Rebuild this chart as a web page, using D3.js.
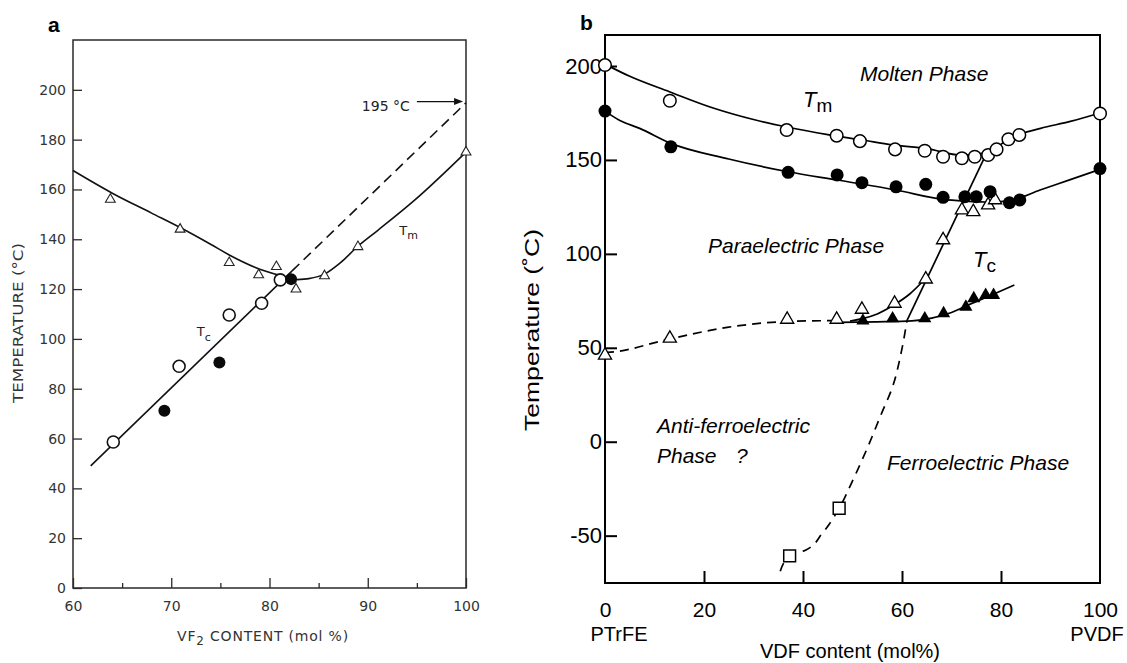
<!DOCTYPE html>
<html><head><meta charset="utf-8">
<script src="https://cdn.jsdelivr.net/npm/d3@7"></script>
<style>body{margin:0;background:#fff;} svg{display:block;}</style>
</head><body>
<script>
// ---------------- Panel a data ----------------
const aXTicks = [60, 70, 80, 90, 100];
const aXMinor = [65, 75, 85, 95];
const aYTicks = [0, 20, 40, 60, 80, 100, 120, 140, 160, 180, 200];
const aTriX = [63.8, 70.9, 75.9, 78.9, 80.7, 82.7, 85.6, 89.0, 100];
const aTriY = [156, 144, 130.6, 125.7, 129, 120, 125.3, 137, 175];
const aOpenCircX = [64.1, 70.8, 75.9, 79.2, 81.1];
const aOpenCircY = [58.6, 89, 109.6, 114.3, 123.7];
const aFillCircX = [69.3, 74.9, 82.2];
const aFillCircY = [71.2, 90.5, 124];
const aTmLeftX = [60, 64, 68, 71, 74, 76, 78.5, 81.2];
const aTmLeftY = [167.6, 158.5, 150.5, 144.5, 138, 133.5, 128.8, 125.3];
const aTmRightX = [82.8, 84, 85.6, 87.2, 89, 91, 94.8, 100];
const aTmRightY = [123.8, 124.2, 126, 130.5, 137.2, 143.5, 155.8, 175];
const aTcSolidX = [61.8, 82.3];
const aTcSolidY = [49, 127.3];
const aTcDashX = [82.3, 100];
const aTcDashY = [127.3, 194.8];

// ---------------- Panel b data ----------------
const bXTicks = [0, 20, 40, 60, 80, 100];
const bYTicks = [-50, 0, 50, 100, 150, 200];
const bOpenCircX = [0, 13.1, 36.7, 46.8, 51.5, 58.6, 64.6, 68.3, 72.1, 74.7, 77.4, 79.1, 81.5, 83.7, 100];
const bOpenCircY = [200.5, 181.5, 165.9, 162.9, 160, 155.6, 154.9, 151.7, 150.9, 151.7, 152.6, 155.6, 161, 163.3, 174.7];
const bFillCircX = [0, 13.3, 37, 46.9, 51.9, 58.8, 64.8, 68.3, 72.7, 75, 77.8, 81.7, 83.8, 100];
const bFillCircY = [176, 157, 143.4, 142, 137.9, 135.7, 137, 130.1, 130.4, 130.4, 133.1, 127.2, 128.7, 145.4];
const bOpenTriX = [0, 13.1, 36.8, 46.8, 51.9, 58.5, 64.8, 68.3, 72.1, 74.4, 77.4, 78.8];
const bOpenTriY = [46, 55, 65.1, 65.1, 70.4, 73.6, 86.5, 107.4, 123.3, 122.4, 126, 128.7];
const bFillTriX = [52.1, 58.1, 64.6, 68.4, 72.9, 74.5, 76.9, 78.5];
const bFillTriY = [64.4, 65.6, 65.6, 68.3, 71.8, 76.3, 78, 78];
const bSquareX = [37.3, 47.3];
const bSquareY = [-60.8, -35.4];
const bTmUpperX = [0, 5, 13, 22, 30, 37, 45, 52, 58, 65, 72, 75, 78, 81.3, 84, 88, 94, 100];
const bTmUpperY = [201, 194.5, 186.3, 177.5, 171.5, 167.4, 163.5, 160.6, 158, 156, 152.6, 153, 155, 160.6, 163.8, 166.8, 170.5, 175];
const bTmLowerX = [0, 3, 7, 13.3, 25, 37, 46.9, 58.8, 68.3, 72.7, 78, 82, 87.9, 94, 100];
const bTmLowerY = [176, 171, 166.8, 158.8, 150.5, 143.7, 139.3, 134, 129, 128.1, 127.6, 128.5, 134, 139.5, 145];
const bSteepX = [61, 77.4];
const bSteepY = [64.5, 155.3];
const bLowDashX = [35.4, 37.3, 40.6, 43.9, 47.3, 49.8, 53.1, 55.7, 58.1, 59.8, 61];
const bLowDashY = [-69, -61, -57.6, -48.7, -35.5, -22, -2.7, 14, 29.3, 47, 64.5];
const bLeftDashX = [0, 2.3, 12, 25, 36.8, 47];
const bLeftDashY = [47.5, 48, 54, 61, 64, 64.5];
const bTcFillX = [47, 55, 62, 66, 70, 74, 78, 82.7];
const bTcFillY = [63.5, 63.8, 64.3, 65.8, 68.8, 73.5, 78, 83.4];
const bTcOpenX = [49.5, 52, 55, 58.5, 61.5, 64.8];
const bTcOpenY = [64.2, 65.5, 68, 73, 78.5, 87];

const zip = (xs, ys) => xs.map((x, i) => [x, ys[i]]);

const svg = d3.select("body").append("svg").attr("width", 1127).attr("height", 663)
  .style("background", "#fff");

// =============== PANEL A ===============
const xa = d3.scaleLinear().domain([60, 100]).range([73, 466]);
const ya = d3.scaleLinear().domain([0, 220]).range([588, 40]);
const ga = svg.append("g");
const aInk = "#2a2a2a";
const aFont = "DejaVu Sans, Liberation Sans, sans-serif";

ga.append("rect").attr("x", xa(60)).attr("y", ya(220)).attr("width", xa(100) - xa(60))
  .attr("height", ya(0) - ya(220)).attr("fill", "none").attr("stroke", aInk).attr("stroke-width", 1.5);

const axA_y = ga.append("g").attr("transform", `translate(${xa(60)},0)`)
  .call(d3.axisLeft(ya).tickValues(aYTicks).tickSize(-9).tickPadding(7));
const axA_x = ga.append("g").attr("transform", `translate(0,${ya(0)})`)
  .call(d3.axisBottom(xa).tickValues(aXTicks).tickSize(-10).tickPadding(13).tickFormat(d3.format("d")));
const axA_xm = ga.append("g").attr("transform", `translate(0,${ya(0)})`)
  .call(d3.axisBottom(xa).tickValues(aXMinor).tickSize(-5).tickFormat(""));
[axA_y, axA_x, axA_xm].forEach(ax => {
  ax.select(".domain").remove();
  ax.selectAll("line").attr("stroke", aInk).attr("stroke-width", 1.3);
  ax.selectAll("text").attr("font-family", aFont).attr("font-size", 14).attr("fill", "#333");
});

const lineA = d3.line().x(d => xa(d[0])).y(d => ya(d[1])).curve(d3.curveMonotoneX);
const aLine = (pts, dash) => ga.append("path").attr("d", lineA(pts)).attr("fill", "none")
  .attr("stroke", "#111").attr("stroke-width", 1.6).attr("stroke-dasharray", dash || null);
aLine(zip(aTmLeftX, aTmLeftY));
aLine(zip(aTmRightX, aTmRightY));
aLine(zip(aTcSolidX, aTcSolidY));
aLine(zip(aTcDashX, aTcDashY), "10,6");

// markers a
ga.selectAll(".atri").data(zip(aTriX, aTriY)).join("path")
  .attr("d", d3.symbol(d3.symbolTriangle, 42)())
  .attr("transform", d => `translate(${xa(d[0])},${ya(d[1])})`)
  .attr("fill", "#fff").attr("stroke", "#222").attr("stroke-width", 1.1);
ga.selectAll(".aoc").data(zip(aOpenCircX, aOpenCircY)).join("circle")
  .attr("cx", d => xa(d[0])).attr("cy", d => ya(d[1])).attr("r", 6)
  .attr("fill", "#fff").attr("stroke", "#111").attr("stroke-width", 1.6);
ga.selectAll(".afc").data(zip(aFillCircX, aFillCircY)).join("circle")
  .attr("cx", d => xa(d[0])).attr("cy", d => ya(d[1])).attr("r", 6)
  .attr("fill", "#0a0a0a");

// annotation 195 °C
ga.append("text").attr("x", xa(89.4)).attr("y", ya(191.5)).text("195 °C")
  .attr("font-family", aFont).attr("font-size", 14).attr("fill", "#222");
const arrowY = ya(195.3);
ga.append("line").attr("x1", xa(95)).attr("x2", xa(99.3)).attr("y1", arrowY).attr("y2", arrowY)
  .attr("stroke", "#111").attr("stroke-width", 1.3);
ga.append("path").attr("d", `M${xa(99.7)},${arrowY} l-9,-3.5 l0,7 z`).attr("fill", "#111");

// Tm, Tc labels panel a
const tmA = ga.append("text").attr("x", xa(93.2)).attr("y", ya(141.6)).attr("font-family", aFont).attr("fill", "#222");
tmA.append("tspan").attr("font-size", 13).text("T");
tmA.append("tspan").attr("font-size", 11).attr("dy", 4).text("m");
const tcA = ga.append("text").attr("x", xa(72.6)).attr("y", ya(101)).attr("font-family", aFont).attr("fill", "#222");
tcA.append("tspan").attr("font-size", 13).text("T");
tcA.append("tspan").attr("font-size", 11).attr("dy", 5).text("c");

// axis titles a
ga.append("text").attr("transform", `translate(23,323) rotate(-90)`).attr("text-anchor", "middle")
  .attr("font-family", aFont).attr("font-size", 14).attr("fill", "#333")
  .attr("textLength", 160).attr("lengthAdjust", "spacingAndGlyphs").text("TEMPERATURE (°C)");
const xtA = ga.append("text").attr("x", 263).attr("y", 641).attr("text-anchor", "middle")
  .attr("font-family", aFont).attr("font-size", 14).attr("fill", "#333").attr("letter-spacing", 0.8);
xtA.append("tspan").text("VF");
xtA.append("tspan").attr("font-size", 12).attr("dy", 4).text("2");
xtA.append("tspan").attr("dy", -4).text(" CONTENT (mol %)");

// panel letter
svg.append("text").attr("x", 48).attr("y", 32).text("a").attr("font-family", "Liberation Sans, Arial, sans-serif")
  .attr("font-weight", "bold").attr("font-size", 21);

// =============== PANEL B ===============
const xb = d3.scaleLinear().domain([0, 100]).range([605, 1100]);
const yb = d3.scaleLinear().domain([-75.2, 216.5]).range([583, 35]);
const gb = svg.append("g");
const bFont = "Liberation Sans, Arial, Helvetica, sans-serif";

gb.append("rect").attr("x", xb(0)).attr("y", yb(216.5)).attr("width", xb(100) - xb(0))
  .attr("height", yb(-75.2) - yb(216.5)).attr("fill", "none").attr("stroke", "#000").attr("stroke-width", 2);

const axB_y = gb.append("g").attr("transform", `translate(${xb(0)},0)`)
  .call(d3.axisLeft(yb).tickValues(bYTicks).tickSize(-12).tickPadding(3).tickFormat(d => String(d)));
const axB_x = gb.append("g").attr("transform", `translate(0,${yb(-75.2)})`)
  .call(d3.axisBottom(xb).tickValues(bXTicks).tickSize(-12).tickPadding(19).tickFormat(d => String(d)));
[axB_y, axB_x].forEach(ax => {
  ax.select(".domain").remove();
  ax.selectAll("line").attr("stroke", "#000").attr("stroke-width", 2);
  ax.selectAll("text").attr("font-family", bFont).attr("font-size", 22).attr("fill", "#000");
});
axB_x.selectAll("text").attr("font-size", 21);
axB_x.selectAll(".tick").filter(d => d === 0 || d === 100).select("line").remove();

const lineB = d3.line().x(d => xb(d[0])).y(d => yb(d[1])).curve(d3.curveMonotoneX);
const lineBy = d3.line().x(d => xb(d[0])).y(d => yb(d[1])).curve(d3.curveMonotoneY);
const bLine = (pts, dash, gen) => gb.append("path").attr("d", (gen || lineB)(pts)).attr("fill", "none")
  .attr("stroke", "#000").attr("stroke-width", 1.7).attr("stroke-dasharray", dash || null);
bLine(zip(bTmUpperX, bTmUpperY));
bLine(zip(bTmLowerX, bTmLowerY));
bLine(zip(bSteepX, bSteepY));
bLine(zip(bLowDashX, bLowDashY), "9,7", lineBy);
bLine(zip(bLeftDashX, bLeftDashY), "9,6");
bLine(zip(bTcFillX, bTcFillY));
bLine(zip(bTcOpenX, bTcOpenY));

// markers b
gb.selectAll(".bsq").data(zip(bSquareX, bSquareY)).join("path")
  .attr("d", d3.symbol(d3.symbolSquare, 140)())
  .attr("transform", d => `translate(${xb(d[0])},${yb(d[1])})`)
  .attr("fill", "#fff").attr("stroke", "#000").attr("stroke-width", 1.5);
gb.selectAll(".bot").data(zip(bOpenTriX, bOpenTriY)).join("path")
  .attr("d", d3.symbol(d3.symbolTriangle, 75)())
  .attr("transform", d => `translate(${xb(d[0])},${yb(d[1])})`)
  .attr("fill", "#fff").attr("stroke", "#000").attr("stroke-width", 1.3);
gb.selectAll(".bft").data(zip(bFillTriX, bFillTriY)).join("path")
  .attr("d", d3.symbol(d3.symbolTriangle, 75)())
  .attr("transform", d => `translate(${xb(d[0])},${yb(d[1])})`)
  .attr("fill", "#000");
gb.selectAll(".bfc").data(zip(bFillCircX, bFillCircY)).join("circle")
  .attr("cx", d => xb(d[0])).attr("cy", d => yb(d[1])).attr("r", 6.5).attr("fill", "#000");
gb.selectAll(".boc").data(zip(bOpenCircX, bOpenCircY)).join("circle")
  .attr("cx", d => xb(d[0])).attr("cy", d => yb(d[1])).attr("r", 6.3)
  .attr("fill", "#fff").attr("stroke", "#000").attr("stroke-width", 1.5);

// phase labels
const itxt = (x, y, s) => gb.append("text").attr("x", x).attr("y", y).text(s)
  .attr("font-family", bFont).attr("font-style", "italic").attr("font-size", 21).attr("fill", "#000");
itxt(860, 81, "Molten Phase");
itxt(708, 253, "Paraelectric Phase");
itxt(657, 433, "Anti-ferroelectric");
itxt(657, 463, "Phase");
itxt(736, 463, "?");
itxt(887, 470, "Ferroelectric Phase");

const tmB = gb.append("text").attr("x", 803).attr("y", 107).attr("font-family", bFont).attr("fill", "#000");
tmB.append("tspan").attr("font-style", "italic").attr("font-size", 22).text("T");
tmB.append("tspan").attr("font-size", 19).attr("dy", 5).text("m");
const tcB = gb.append("text").attr("x", 973).attr("y", 267).attr("font-family", bFont).attr("fill", "#000");
tcB.append("tspan").attr("font-style", "italic").attr("font-size", 22).text("T");
tcB.append("tspan").attr("font-size", 19).attr("dy", 5).text("c");

// axis titles b
gb.append("text").attr("transform", `translate(539,330) rotate(-90)`).attr("text-anchor", "middle")
  .attr("font-family", bFont).attr("font-size", 20).attr("fill", "#000")
  .attr("textLength", 202).attr("lengthAdjust", "spacingAndGlyphs").text("Temperature (˚C)");
gb.append("text").attr("x", 850).attr("y", 658).attr("text-anchor", "middle")
  .attr("font-family", bFont).attr("font-size", 20).text("VDF content (mol%)");
gb.append("text").attr("x", 619).attr("y", 641).attr("text-anchor", "middle")
  .attr("font-family", bFont).attr("font-size", 20).text("PTrFE");
gb.append("text").attr("x", 1097).attr("y", 641).attr("text-anchor", "middle")
  .attr("font-family", bFont).attr("font-size", 20).text("PVDF");

svg.append("text").attr("x", 580).attr("y", 30).text("b").attr("font-family", "Liberation Sans, Arial, sans-serif")
  .attr("font-weight", "bold").attr("font-size", 21);
</script></body></html>
